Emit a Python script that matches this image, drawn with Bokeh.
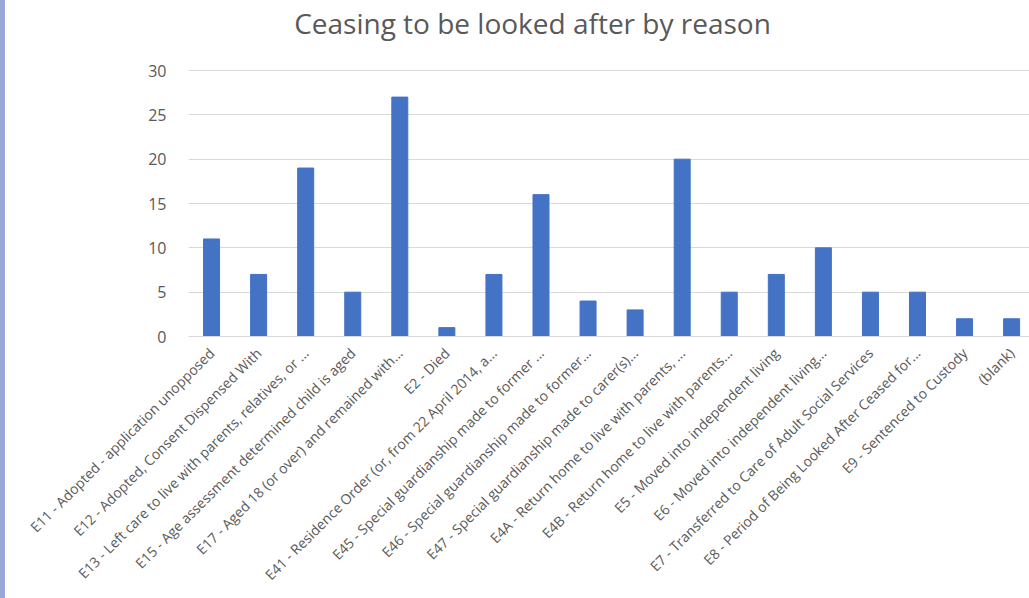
from bokeh.plotting import figure
from bokeh.models import Range1d, FixedTicker, Label, Div
from bokeh.layouts import row
from bokeh.embed import file_html
from bokeh.resources import INLINE
import math

reasons = [
    "E11 - Adopted - application unopposed",
    "E12 - Adopted, Consent Dispensed With",
    "E13 - Left care to live with parents, relatives, or ...",
    "E15 - Age assessment determined child is aged",
    "E17 - Aged 18 (or over) and remained with...",
    "E2 - Died",
    "E41 - Residence Order (or, from 22 April 2014, a...",
    "E45 - Special guardianship made to former ...",
    "E46 - Special guardianship made to former...",
    "E47 - Special guardianship made to carer(s)...",
    "E4A - Return home to live with parents, ...",
    "E4B - Return home to live with parents...",
    "E5 - Moved into independent living",
    "E6 - Moved into independent living...",
    "E7 - Transferred to Care of Adult Social Services",
    "E8 - Period of Being Looked After Ceased for...",
    "E9 - Sentenced to Custody",
    "(blank)",
]
counts = [11, 7, 19, 5, 27, 1, 7, 16, 4, 3, 20, 5, 7, 10, 5, 5, 2, 2]
y_ticks = [0, 5, 10, 15, 20, 25, 30]

positions = list(range(len(reasons)))

# The frame runs to the top of the canvas so the heading can sit inside it;
# the value axis reaches 30 at 70 px below the top of a 336 px tall frame.
FRAME_H = 336
TOP_GRID_PX = 70
y_top = y_ticks[-1] * FRAME_H / (FRAME_H - TOP_GRID_PX)

p = figure(
    width=1024, height=598,
    output_backend="svg", toolbar_location=None,
    x_range=Range1d(-0.49, 17.38), y_range=Range1d(0, y_top),
    min_border_left=183, min_border_right=0,
    min_border_top=0, min_border_bottom=598 - FRAME_H,
    margin=(0, 0, 0, 0),
)
p.outline_line_color = None
p.background_fill_color = "white"
p.border_fill_color = "white"

# heading: 22 px below the top edge, centred at 532 px across the page
p.add_layout(Label(x=(532 - 5 - 183), y=FRAME_H - 22,
                   x_units="screen", y_units="screen",
                   text="Ceasing to be looked after by reason",
                   text_align="center", text_baseline="middle",
                   text_font="Open Sans", text_font_size="28px",
                   text_color="#595959"))

p.vbar(x=positions, top=counts, width=0.34, color="#4472C4")

p.xgrid.grid_line_color = None
p.ygrid.grid_line_color = "#d9d9d9"
p.ygrid.ticker = FixedTicker(ticks=y_ticks)

p.yaxis.ticker = FixedTicker(ticks=y_ticks)
p.yaxis.axis_line_color = None
p.yaxis.major_tick_line_color = None
p.yaxis.minor_tick_line_color = None
p.yaxis.major_label_standoff = 16
p.yaxis.major_label_text_font = "Open Sans"
p.yaxis.major_label_text_font_size = "16px"
p.yaxis.major_label_text_color = "#595959"

p.xaxis.ticker = FixedTicker(ticks=positions)
p.xaxis.major_label_overrides = {i: r for i, r in zip(positions, reasons)}
p.xaxis.major_label_orientation = math.pi / 4
p.xaxis.axis_line_color = "#d9d9d9"
p.xaxis.major_tick_line_color = None
p.xaxis.minor_tick_line_color = None
p.xaxis.major_label_standoff = 8
p.xaxis.major_label_text_font = "Open Sans"
p.xaxis.major_label_text_font_size = "14px"
p.xaxis.major_label_text_color = "#595959"

edge = Div(width=5, height=598, margin=(0, 0, 0, 0),
           styles={"background-color": "#98a6da"})
layout = row(edge, p, spacing=0, margin=(0, 0, 0, 0))

open("out.html", "w").write(file_html(layout, INLINE))
